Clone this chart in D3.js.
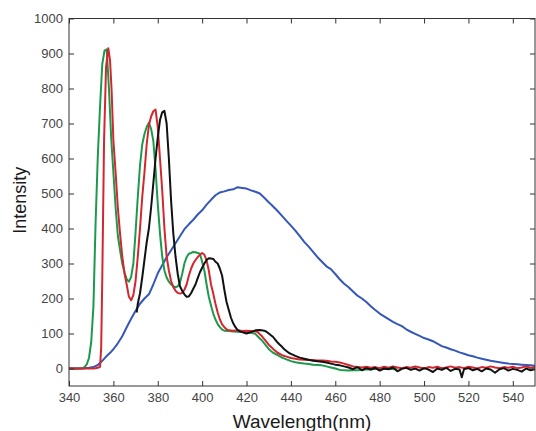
<!DOCTYPE html>
<html>
<head>
<meta charset="utf-8">
<script src="https://cdn.jsdelivr.net/npm/d3@7"></script>
<style>
  html, body { margin: 0; padding: 0; background: #fff; }
  svg { display: block; }
  text { font-family: "Liberation Sans", Arial, sans-serif; }
</style>
</head>
<body>
<svg id="chart" width="536" height="431"></svg>
<script>
// ---- data (wavelength nm, intensity) ----
const xTicks = [340, 360, 380, 400, 420, 440, 460, 480, 500, 520, 540];
const yTicks = [0, 100, 200, 300, 400, 500, 600, 700, 800, 900, 1000];

const blueSeries = [
  [340,0],[343,1],[346,0],[349,2],[351,4],[353,10],[355,22],[357,36],[359,48],[360,55],[362,72],
  [364,92],[366,118],[368,142],[370,165],[372,185],[374,200],[376,212],[378,240],[380,272],
  [382,295],[384,318],[386,338],[388,358],[390,378],[392,398],[394,412],[396,425],[398,440],
  [400,452],[402,468],[404,482],[406,495],[408,503],[410,506],[412,510],[414,512],[416,518],
  [418,516],[420,514],[422,509],[424,505],[426,500],[428,488],[430,475],[432,463],[434,450],
  [436,436],[438,422],[440,408],[442,394],[444,378],[446,362],[448,348],[450,333],[452,318],
  [454,305],[456,292],[458,284],[460,270],[462,255],[464,242],[466,232],[468,220],[470,208],
  [472,200],[474,190],[476,178],[478,167],[480,157],[482,149],[484,141],[486,133],[488,127],
  [490,121],[492,112],[494,105],[496,99],[498,93],[500,87],[502,83],[504,78],[506,71],
  [508,64],[510,60],[512,55],[514,51],[516,46],[518,42],[520,38],[522,35],[524,31],[526,28],
  [528,25],[530,22],[532,20],[534,18],[536,16],[538,14],[540,13],[542,12],[544,11],[546,10],
  [548,9],[550,8]
];

const greenSeries = [
  [340,0],[341,0],[342,-1],[343,0],[344,0],[345,0],[346,1],[347,4],[348,12],[349,30],[350,75],
  [351,176],[352,420],[353,610],[354,750],[355,870],[356,908],[357,912],[358,800],[359,660],
  [360,560],[361,460],[362,380],[363,338],[364,300],[365,275],[366,255],[367,248],[368,262],
  [369,300],[370,390],[371,490],[372,580],[373,640],[374,670],[375,690],[376,702],[377,685],
  [378,650],[379,570],[380,470],[381,386],[382,320],[383,280],[384,260],[385,248],[386,240],
  [387,235],[388,232],[389,235],[390,245],[391,270],[392,300],[393,318],[394,328],[395,330],
  [396,333],[397,332],[398,330],[399,328],[400,305],[401,280],[402,240],[403,205],[404,180],
  [405,157],[406,140],[407,127],[408,118],[409,111],[410,108],[412,107],[414,106],[416,105],
  [418,104],[420,103],[422,102],[424,99],[425,92],[426,86],[427,80],[428,72],[429,64],[430,56],
  [431,50],[432,45],[434,38],[436,31],[438,26],[440,21],[442,18],[444,16],[446,14],[448,13],
  [450,11],[452,10],[454,9],[456,6],[458,3],[460,0],[462,-4],[464,-5],[466,-6],[468,-5],
  [470,-5],[472,-4],[474,-2],[476,-3],[478,-1],[480,-2],[484,-1],[488,-2]
];

const redSeries = [
  [340,0],[341,1],[342,0],[343,-1],[344,0],[345,0],[346,0],[347,1],[348,0],[349,0],[350,0],
  [351,0],[352,1],[353,2],[354,5],[354.5,60],[355,260],[355.8,652],[356.7,862],[357.7,915],
  [358.5,880],[359.2,795],[360,652],[361,560],[362,460],[363,386],[364,320],[365,272],[366,240],
  [367,205],[368,195],[369,210],[370,250],[371,320],[372,400],[373,490],[374,560],[375,640],
  [376,695],[377,720],[378,735],[379,740],[380,690],[381,600],[382,510],[383,400],[384,320],
  [385,280],[386,250],[387,233],[388,222],[389,216],[390,214],[391,216],[392,225],[393,240],
  [394,265],[395,285],[396,300],[397,310],[398,318],[399,325],[400,330],[401,325],[402,309],
  [403,280],[404,240],[405,214],[406,185],[407,160],[408,140],[409,126],[410,118],[411,112],
  [412,109],[414,108],[416,109],[418,107],[420,108],[422,107],[424,106],[425,104],[426,98],
  [427,92],[428,84],[429,76],[430,68],[431,62],[432,56],[434,45],[436,38],[438,34],[440,30],
  [442,28],[444,26],[446,25],[448,24],[450,24],[452,23],[454,23],[456,22],[458,20],[460,19],
  [462,17],[464,14],[466,10],[468,6],[470,4],[472,3],[474,5],[476,2],[478,4],[480,1],[482,5],
  [484,2],[486,6],[488,3],[490,1],[492,4],[494,2],[496,6],[498,3],[500,0],[502,4],[504,2],
  [506,5],[508,1],[510,3],[512,6],[514,2],[516,4],[518,1],[520,5],[522,3],[524,0],[526,4],
  [528,2],[530,6],[532,3],[534,1],[536,4],[538,2],[540,5],[542,1],[544,3],[546,6],[548,2],[550,4]
];

const blackSeries = [
  [370.5,160],[371,185],[372,215],[373,260],[374,310],[375,360],[376,400],[377,460],[378,529],
  [379,600],[380,660],[381,710],[382,732],[383,736],[384,700],[385,600],[386,480],[387,386],
  [388,320],[389,270],[390,235],[391,222],[392,212],[393,205],[394,206],[395,215],[396,228],
  [397,240],[398,258],[399,275],[400,288],[401,300],[402,310],[403,315],[404,314],[405,313],
  [406,305],[407,300],[408,285],[409,265],[410,225],[411,190],[412,167],[413,145],[414,129],
  [415,118],[416,110],[417,106],[418,104],[420,100],[422,104],[424,109],[426,110],[428,108],
  [429,105],[430,100],[431,95],[432,90],[433,82],[434,74],[435,68],[436,62],[437,55],[438,50],
  [439,45],[440,42],[442,36],[444,31],[446,28],[448,25],[450,22],[452,21],[454,19],[456,17],
  [458,14],[460,11],[462,9],[464,6],[466,3],[468,-2],[470,4],[472,-5],[474,1],[476,-3],[478,2],
  [480,-6],[482,0],[484,-2],[486,3],[488,-8],[490,-1],[492,2],[494,-4],[496,0],[498,-6],[500,1],
  [502,-3],[504,-10],[506,0],[508,-4],[510,2],[512,-7],[514,-1],[516,-3],[517,-25],[518,-2],
  [520,1],[522,-5],[524,-1],[526,-8],[528,0],[530,-3],[532,-12],[534,-2],[536,1],[538,-6],
  [540,-1],[542,-4],[544,-9],[546,0],[548,-5],[550,-2]
];

const seriesList = [
  { name: "blue", data: blueSeries, color: "#3557b7" },
  { name: "green", data: greenSeries, color: "#1c9a4c" },
  { name: "red", data: redSeries, color: "#d3262f" },
  { name: "black", data: blackSeries, color: "#111111" }
];

// ---- layout ----
const svg = d3.select("#chart");
const mLeft = 69, mRight = 535, mTop = 18.5, mBottom = 386;

const x = d3.scaleLinear().domain([340, 550]).range([mLeft, mRight]);
const y = d3.scaleLinear().domain([-50, 1000]).range([mBottom, mTop]);

svg.append("clipPath").attr("id", "plotclip")
  .append("rect").attr("x", mLeft).attr("y", mTop)
  .attr("width", mRight - mLeft).attr("height", mBottom - mTop);

const line = d3.line().x(d => x(d[0])).y(d => y(d[1])).curve(d3.curveLinear);

const plot = svg.append("g").attr("clip-path", "url(#plotclip)");
seriesList.forEach(s => {
  plot.append("path")
    .datum(s.data)
    .attr("fill", "none")
    .attr("stroke", s.color)
    .attr("stroke-width", 2)
    .attr("stroke-linejoin", "round")
    .attr("d", line);
});

// ---- axes (inward ticks, box) ----
const tickLen = 5;
const axisColor = "#333";
const labelColor = "#444";
const fmt = d3.format("d");

const gBottom = svg.append("g").attr("transform", `translate(0,${mBottom})`)
  .call(d3.axisBottom(x).tickValues(xTicks).tickFormat(fmt).tickSizeInner(-tickLen).tickSizeOuter(0).tickPadding(7));
const gTop = svg.append("g").attr("transform", `translate(0,${mTop})`)
  .call(d3.axisTop(x).tickValues(xTicks).tickSizeInner(-tickLen).tickSizeOuter(0).tickFormat(""));
const gLeft = svg.append("g").attr("transform", `translate(${mLeft},0)`)
  .call(d3.axisLeft(y).tickValues(yTicks).tickFormat(fmt).tickSizeInner(-tickLen).tickSizeOuter(0).tickPadding(6));
const gRight = svg.append("g").attr("transform", `translate(${mRight},0)`)
  .call(d3.axisRight(y).tickValues(yTicks).tickSizeInner(-tickLen).tickSizeOuter(0).tickFormat(""));

[gBottom, gTop, gLeft, gRight].forEach(g => {
  g.select(".domain").remove();
  g.selectAll(".tick line").attr("stroke", axisColor).attr("stroke-width", 1);
  g.selectAll(".tick text").attr("fill", labelColor).style("font-size", "13px")
    .style("font-family", "'Liberation Sans', Arial, sans-serif");
});

svg.append("rect")
  .attr("x", mLeft).attr("y", mTop)
  .attr("width", mRight - mLeft).attr("height", mBottom - mTop)
  .attr("fill", "none").attr("stroke", axisColor).attr("stroke-width", 1);

// ---- axis titles ----
svg.append("text")
  .attr("x", (mLeft + mRight) / 2).attr("y", 428)
  .attr("text-anchor", "middle")
  .attr("fill", "#1a1a1a")
  .style("font-size", "19px")
  .text("Wavelength(nm)");

svg.append("text")
  .attr("transform", `translate(26,${(mTop + mBottom) / 2 - 2}) rotate(-90)`)
  .attr("text-anchor", "middle")
  .attr("fill", "#1a1a1a")
  .style("font-size", "18px")
  .text("Intensity");
</script>
</body>
</html>
